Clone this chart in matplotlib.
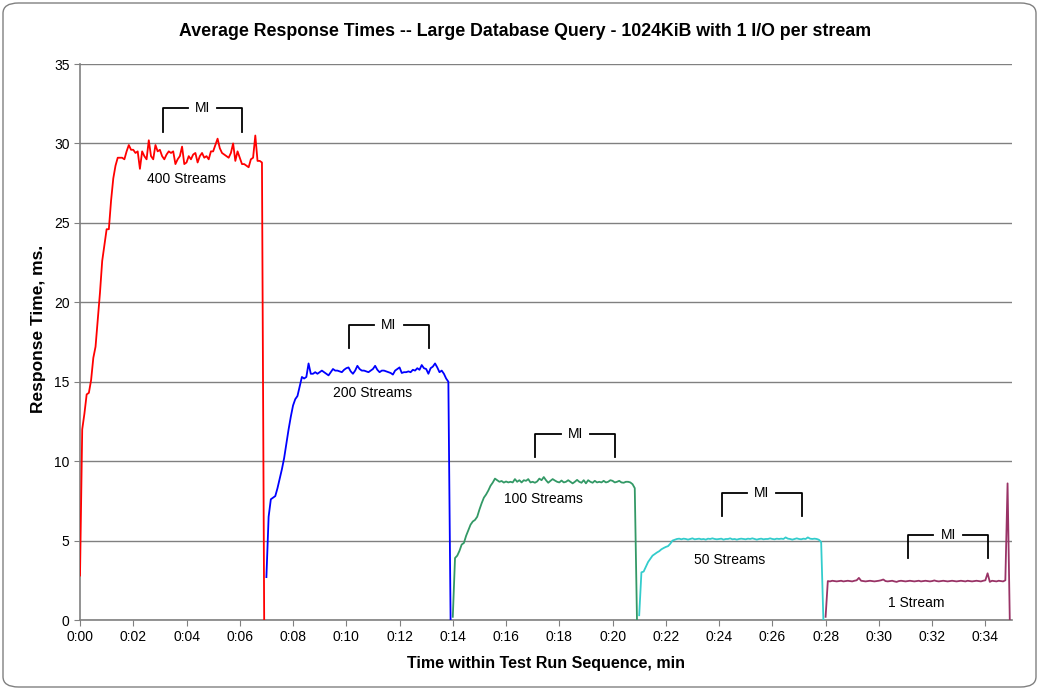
import numpy as np
import matplotlib
matplotlib.use("Agg")
import matplotlib.pyplot as plt
from matplotlib.patches import FancyBboxPatch

plt.rcParams['font.family'] = ['Liberation Sans', 'DejaVu Sans']

# samples every 5 s, each run is 7 minutes long
seg_start = [0, 7, 14, 21, 28]
labels = ['400 Streams', '200 Streams', '100 Streams', '50 Streams', '1 Stream']
colors = ['#FF0000', '#0000FF', '#339966', '#33CCCC', '#993366']

s400 = [2.8, 12.0, 13.0, 14.2, 14.3, 15.1, 16.5, 17.2, 18.9, 20.6, 22.6, 23.6, 24.6, 24.6,
        26.4, 27.8, 28.6, 29.1, 29.1, 29.1, 29.0, 29.5, 29.9, 29.6, 29.6, 29.4, 29.5, 28.4,
        29.5, 29.2, 29.0, 30.2, 29.2, 29.0, 29.9, 29.5, 29.6, 29.2, 29.0, 29.3, 29.5, 29.4,
        29.5, 28.7, 29.0, 29.2, 29.8, 28.7, 28.8, 29.2, 29.0, 29.3, 29.4, 28.8, 29.2, 29.4,
        29.1, 29.2, 29.0, 29.5, 29.5, 29.9, 30.3, 29.7, 29.4, 29.3, 29.2, 29.1, 29.4, 30.0,
        28.9, 29.5, 29.1, 28.7, 28.7, 28.6, 28.5, 29.0, 29.1, 30.5, 28.9, 28.9, 28.8, 0.0]
s200 = [2.7, 6.5, 7.6, 7.7, 7.8, 8.3, 8.9, 9.5, 10.2, 11.1, 12.0, 12.8, 13.5, 13.9,
        14.1, 14.7, 15.3, 15.2, 15.3, 16.15, 15.5, 15.5, 15.6, 15.5, 15.6, 15.7, 15.6, 15.5,
        15.4, 15.6, 15.8, 15.7, 15.7, 15.65, 15.6, 15.75, 15.85, 15.9, 15.65, 15.5, 15.7, 16.0,
        15.8, 15.7, 15.7, 15.65, 15.6, 15.7, 15.8, 16.0, 15.75, 15.6, 15.7, 15.7, 15.65, 15.6,
        15.55, 15.45, 15.7, 15.8, 15.9, 15.55, 15.6, 15.6, 15.65, 15.6, 15.75, 15.7, 15.85, 15.75,
        16.05, 15.85, 15.8, 15.5, 15.85, 15.95, 16.15, 15.9, 15.6, 15.7, 15.5, 15.2, 15.0, 0.0]
s100 = [0.2, 3.9, 4.05, 4.35, 4.75, 4.85, 5.3, 5.65, 6.0, 6.2, 6.3, 6.5, 6.95, 7.35,
        7.7, 7.9, 8.15, 8.45, 8.65, 8.9, 8.8, 8.7, 8.75, 8.65, 8.72, 8.66, 8.7, 8.66,
        8.87, 8.7, 8.8, 8.66, 8.8, 8.76, 8.87, 8.66, 8.7, 8.64, 8.72, 8.9, 8.8, 9.0,
        8.8, 8.64, 8.76, 8.87, 8.78, 8.7, 8.66, 8.78, 8.66, 8.7, 8.8, 8.7, 8.6, 8.7,
        8.82, 8.7, 8.64, 8.8, 8.6, 8.8, 8.7, 8.64, 8.76, 8.66, 8.7, 8.66, 8.76, 8.66,
        8.7, 8.8, 8.76, 8.66, 8.7, 8.76, 8.66, 8.64, 8.7, 8.7, 8.66, 8.55, 8.3, 0.0]
s50 = [0.3, 3.0, 3.05, 3.35, 3.65, 3.85, 4.05, 4.15, 4.25, 4.33, 4.45, 4.53, 4.6, 4.65,
       4.8, 5.0, 5.05, 5.1, 5.12, 5.08, 5.12, 5.1, 5.06, 5.1, 5.14, 5.08, 5.1, 5.12,
       5.08, 5.1, 5.06, 5.12, 5.1, 5.14, 5.1, 5.08, 5.1, 5.12, 5.06, 5.1, 5.1, 5.14,
       5.08, 5.1, 5.06, 5.1, 5.12, 5.1, 5.08, 5.12, 5.1, 5.14, 5.1, 5.06, 5.1, 5.12,
       5.08, 5.1, 5.1, 5.14, 5.1, 5.08, 5.12, 5.1, 5.12, 5.1, 5.2, 5.12, 5.1, 5.06,
       5.1, 5.14, 5.1, 5.08, 5.12, 5.1, 5.2, 5.12, 5.1, 5.12, 5.1, 5.05, 4.9, 0.0]
s1 = [0.2, 2.45, 2.43, 2.47, 2.45, 2.43, 2.45, 2.47, 2.43, 2.45, 2.47, 2.45, 2.43, 2.47,
      2.5, 2.65, 2.47, 2.45, 2.43, 2.45, 2.47, 2.45, 2.43, 2.45, 2.47, 2.5, 2.55, 2.45,
      2.43, 2.45, 2.47, 2.43, 2.4, 2.45, 2.47, 2.45, 2.43, 2.45, 2.47, 2.45, 2.43, 2.45,
      2.47, 2.43, 2.45, 2.47, 2.45, 2.43, 2.45, 2.49, 2.45, 2.43, 2.45, 2.47, 2.45, 2.43,
      2.45, 2.47, 2.45, 2.43, 2.45, 2.47, 2.45, 2.43, 2.47, 2.45, 2.43, 2.45, 2.47, 2.45,
      2.43, 2.47, 2.5, 2.94, 2.4, 2.47, 2.45, 2.43, 2.47, 2.45, 2.43, 2.5, 8.6, 0.0]
series = [s400, s200, s100, s50, s1]

# measurement interval brackets
mi_start = [3.1, 10.1, 17.1, 24.1, 31.1]
mi_end = [6.1, 13.1, 20.1, 27.1, 34.1]
mi_top = [32.2, 18.6, 11.7, 8.0, 5.35]

# label positions
lab_x = [4.0, 11.0, 17.4, 24.4, 31.4]
lab_y = [27.75, 14.27, 7.6, 3.78, 1.09]

fig = plt.figure(figsize=(10.39, 6.90), dpi=100)
ax = fig.add_axes([80/1039, 70/690, 932/1039, 556/690])

for i in range(5):
    t = seg_start[i] + np.arange(len(series[i])) / 12.0
    ax.plot(t, series[i], color=colors[i], lw=1.3, zorder=3)
    ax.text(lab_x[i], lab_y[i], labels[i], ha='center', va='center', fontsize=10)
    # MI bracket
    a, b, top = mi_start[i], mi_end[i], mi_top[i]
    mid = (a + b) / 2
    gap = 0.55
    ax.plot([a, a, mid - gap], [top - 1.45, top, top], color='black', lw=1.3, zorder=4)
    ax.plot([mid + gap, b, b], [top, top, top - 1.45], color='black', lw=1.3, zorder=4)
    ax.text(mid, top, 'MI', ha='center', va='center', fontsize=10)

ax.set_xlim(0, 35)
ax.set_ylim(0, 35)
ax.set_xticks(np.arange(0, 35, 2))
ax.set_xticklabels(['0:%02d' % m for m in range(0, 35, 2)])
ax.set_yticks(np.arange(0, 36, 5))
ax.yaxis.grid(True, color='#808080', lw=1.0)
ax.set_axisbelow(True)
for s in ['top', 'right']:
    ax.spines[s].set_visible(False)
for s in ['left', 'bottom']:
    ax.spines[s].set_color('#808080')
    ax.spines[s].set_linewidth(1.2)
ax.tick_params(axis='both', direction='out', length=4, color='#808080', labelsize=10)

fig.text(525/1039, 1 - 32/690,
         'Average Response Times -- Large Database Query - 1024KiB with 1 I/O per stream',
         ha='center', va='center', fontsize=12.8, fontweight='bold')
ax.set_xlabel('Time within Test Run Sequence, min', fontsize=11.5, fontweight='bold', labelpad=8)
ax.set_ylabel('Response Time, ms.', fontsize=12.5, fontweight='bold')
ax.yaxis.set_label_coords(-0.037, 0.523)

border = FancyBboxPatch((3/1039, 3/690), 1033/1039, 684/690, transform=fig.transFigure,
                        boxstyle='round,pad=0,rounding_size=0.015', fill=False,
                        edgecolor='#808080', lw=1.0)
fig.add_artist(border)

fig.savefig('out.png', dpi=100)
